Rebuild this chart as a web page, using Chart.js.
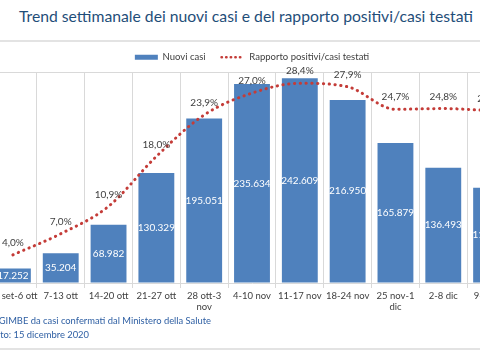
<!DOCTYPE html>
<html><head><meta charset="utf-8">
<script src="https://cdn.jsdelivr.net/npm/chart.js@4.4.1/dist/chart.umd.min.js"></script>
<style>
html,body{margin:0;padding:0;width:480px;height:360px;overflow:hidden;background:#fff;}
body{position:relative;font-family:Lato,sans-serif;}
#title{position:absolute;left:0;top:5px;width:492px;text-align:center;white-space:nowrap;color:#1f4e79;font-size:17px;line-height:22px;}
.rule{position:absolute;left:0;width:480px;height:2px;background:#e3e3e3;}
#wrap{position:absolute;left:-18px;top:0;width:533px;height:323px;}
.foot{position:absolute;white-space:nowrap;color:#2e5fa3;font-size:9.4px;line-height:12px;text-align:right;}
</style></head>
<body>
<div id="title">Trend settimanale dei nuovi casi e del rapporto positivi/casi testati</div>
<div class="rule" style="top:40px"></div>
<div id="wrap"><canvas id="c" width="533" height="323"></canvas></div>
<div class="foot" style="top:315px;right:269px">Elaborazione GIMBE da casi confermati dal Ministero della Salute</div>
<div class="foot" style="top:329px;right:391px">Aggiornato: 15 dicembre 2020</div>
<div class="rule" style="top:348px"></div>
<script>
const settimane = [["30 set-6 ott"],["7-13 ott"],["14-20 ott"],["21-27 ott"],["28 ott-3","nov"],["4-10 nov"],["11-17 nov"],["18-24 nov"],["25 nov-1","dic"],["2-8 dic"],["9-15 dic"]];
const nuoviCasi = [17252, 35204, 68982, 130329, 195051, 235634, 242609, 216950, 165879, 136493, 113000];
const rapportoPositivi = [4.0, 7.0, 10.9, 18.0, 23.9, 27.0, 28.4, 27.9, 24.7, 24.8, 24.5];
const serieNomi = ["Nuovi casi", "Rapporto positivi/casi testati"];

const FAM = "Lato, sans-serif";
Chart.defaults.font.family = FAM;
Chart.defaults.color = '#404040';

(function(){
  const t = document.getElementById('title');
  const m = document.createElement('canvas').getContext('2d');
  m.font = "17px " + FAM;
  const w = m.measureText(t.textContent).width;
  const size = Math.min(20, 17 * 454 / w);
  t.style.fontSize = size.toFixed(2) + 'px';
})();

const fmtInt = v => v.toLocaleString('it-IT');
const fmtPct = v => v.toFixed(1).replace('.', ',') + '%';

const labelPlugin = {
  id: 'valueLabels',
  afterDatasetsDraw(chart) {
    const ctx = chart.ctx;
    ctx.save();
    ctx.textAlign = 'center';
    ctx.textBaseline = 'middle';
    ctx.font = "10px " + FAM;
    ctx.fillStyle = '#ffffff';
    chart.getDatasetMeta(1).data.forEach((bar, i) => {
      const p = bar.getProps(['x','y','base'], true);
      ctx.fillText(fmtInt(nuoviCasi[i]), p.x, (p.y + p.base) / 2);
    });
    ctx.font = "10px " + FAM;
    ctx.fillStyle = '#404040';
    chart.getDatasetMeta(0).data.forEach((pt, i) => {
      const p = pt.getProps(['x','y'], true);
      ctx.fillText(fmtPct(rapportoPositivi[i]), p.x, p.y - 12);
    });
    ctx.restore();
  }
};

new Chart(document.getElementById('c'), {
  data: {
    labels: settimane,
    datasets: [
      {
        type: 'line', label: serieNomi[1], data: rapportoPositivi, yAxisID: 'y2', order: 0,
        borderColor: '#c43c38', backgroundColor: '#c43c38', borderWidth: 3,
        borderDash: [0.3, 5.5], borderCapStyle: 'round', cubicInterpolationMode: 'monotone',
        pointRadius: 0, fill: false
      },
      {
        type: 'bar', label: serieNomi[0], data: nuoviCasi, yAxisID: 'y', order: 1,
        backgroundColor: '#4f81bd', borderWidth: 0,
        categoryPercentage: 1.0, barPercentage: 0.75
      }
    ]
  },
  options: {
    responsive: false, animation: false, devicePixelRatio: 1,
    layout: { padding: { left: 7, right: 0, top: 36.5, bottom: 0 } },
    plugins: {
      title: { display: false },
      tooltip: { enabled: false },
      legend: {
        position: 'top',
        reverse: true,
        labels: {
          font: { size: 9.5 }, color: '#404040', padding: 16,
          usePointStyle: true, pointStyleWidth: 23, boxHeight: 5,
          generateLabels(chart) {
            const items = Chart.defaults.plugins.legend.labels.generateLabels(chart);
            items.forEach(it => {
              if (it.datasetIndex === 1) {
                it.pointStyle = 'rect'; it.fillStyle = '#4f81bd'; it.strokeStyle = '#4f81bd'; it.lineWidth = 0; it.lineDash = [];
              } else {
                it.pointStyle = 'line'; it.strokeStyle = '#c43c38'; it.lineWidth = 2.6; it.lineDash = [0.3, 4.3]; it.lineCap = 'round';
              }
            });
            return items;
          }
        }
      }
    },
    scales: {
      x: {
        offset: true,
        grid: { offset: true, color: '#d9d9d9', tickLength: 5, drawTicks: true, lineWidth: 1 },
        border: { color: '#d9d9d9' },
        ticks: { autoSkip: false, maxRotation: 0, padding: 2, color: '#404040', font: { size: 9.5, lineHeight: 1.2 } },
        afterFit(s) { s.height = 40; }
      },
      y: {
        position: 'left', min: 0, max: 250000,
        ticks: { display: false, stepSize: 50000 },
        border: { display: false },
        grid: { drawTicks: false, color: c => (c.tick && c.tick.value === 250000) ? '#d9d9d9' : 'rgba(0,0,0,0)' },
        afterFit(s) { s.width = 0; }
      },
      y2: {
        position: 'right', min: 0, max: 30, display: false
      }
    }
  },
  plugins: [labelPlugin]
});
</script>
</body></html>
